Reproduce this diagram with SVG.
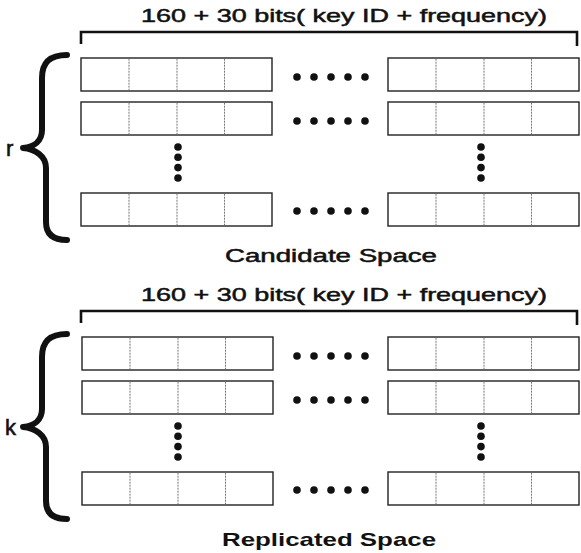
<svg xmlns="http://www.w3.org/2000/svg" xmlns:xlink="http://www.w3.org/1999/xlink" width="581" height="553" viewBox="0 0 581 553">
  <style>
    .title { font-family: "Liberation Sans", "DejaVu Sans", sans-serif; font-size: 18.5px; fill: #111; stroke: #111; stroke-width: 0.5; }
    .caption { font-family: "Liberation Sans", "DejaVu Sans", sans-serif; font-size: 18px; fill: #111; stroke: #111; stroke-width: 0.5; }
    .caption-bold { font-family: "Liberation Sans", "DejaVu Sans", sans-serif; font-size: 19px; font-weight: bold; fill: #111; }
    .letter { font-family: "Liberation Sans", "DejaVu Sans", sans-serif; font-size: 22px; fill: #111; stroke: #111; stroke-width: 0.6; }
    .bracket { fill: none; stroke: #111; stroke-width: 2.6; stroke-linejoin: miter; }
    .brace { fill: none; stroke: #111; stroke-width: 6; stroke-linecap: round; stroke-linejoin: round; }
    .frame { fill: #fff; stroke: #222; stroke-width: 1.4; }
    .divider { stroke: #777; stroke-width: 1; stroke-dasharray: 2 1; }
    .dot { fill: #111; }
  </style>
  <defs>
    <!-- one 4-field row of the table -->
    <g id="row">
      <rect class="frame" x="0" y="0" width="191" height="33"/>
      <line class="divider" x1="48" y1="0.7" x2="48" y2="32.3"/>
      <line class="divider" x1="96" y1="0.7" x2="96" y2="32.3"/>
      <line class="divider" x1="143.5" y1="0.7" x2="143.5" y2="32.3"/>
    </g>
    <!-- horizontal ellipsis between the two columns -->
    <g id="hdots">
      <circle class="dot" cx="0" cy="0" r="3.8"/>
      <circle class="dot" cx="17" cy="0" r="3.8"/>
      <circle class="dot" cx="34" cy="0" r="3.8"/>
      <circle class="dot" cx="51" cy="0" r="3.8"/>
      <circle class="dot" cx="68" cy="0" r="3.8"/>
    </g>
    <!-- vertical ellipsis between rows -->
    <g id="vdots">
      <circle class="dot" cx="0" cy="0" r="3.8"/>
      <circle class="dot" cx="0" cy="10.3" r="3.8"/>
      <circle class="dot" cx="0" cy="20.6" r="3.8"/>
      <circle class="dot" cx="0" cy="31" r="3.8"/>
    </g>
    <!-- width bracket above the table -->
    <path id="widthBracket" class="bracket" d="M 81 44 L 81 32 L 577 32 L 577 46"/>
    <!-- curly brace on the left -->
    <path id="brace" class="brace" d="M 67 55 C 50 55 42 62 42 78 L 42 130 C 42 141 34 147 23 148 C 35 149 46 156 46 168 L 46 222 C 46 234 53 240 67 240"/>
  </defs>

  <!-- Candidate space -->
  <g id="candidate-space">
    <text class="title" x="344" y="22" text-anchor="middle" textLength="406" lengthAdjust="spacingAndGlyphs">160 + 30 bits( key ID + frequency)</text>
    <use xlink:href="#widthBracket"/>
    <use xlink:href="#brace"/>
    <text class="letter" x="6" y="156">r</text>
    <g id="candidate-rows">
      <use xlink:href="#row" x="81" y="58"/>
      <use xlink:href="#row" x="388" y="58"/>
      <use xlink:href="#row" x="81" y="102"/>
      <use xlink:href="#row" x="388" y="102"/>
      <use xlink:href="#row" x="81" y="193"/>
      <use xlink:href="#row" x="388" y="193"/>
    </g>
    <g id="candidate-ellipses">
      <use xlink:href="#hdots" x="297" y="77"/>
      <use xlink:href="#hdots" x="297" y="121"/>
      <use xlink:href="#hdots" x="297" y="211"/>
      <use xlink:href="#vdots" x="178" y="147"/>
      <use xlink:href="#vdots" x="481" y="147"/>
    </g>
    <text class="caption" x="331" y="262" text-anchor="middle" textLength="212" lengthAdjust="spacingAndGlyphs">Candidate Space</text>
  </g>

  <!-- Replicated space -->
  <g id="replicated-space" transform="translate(0 279)">
    <text class="title" x="344" y="22" text-anchor="middle" textLength="406" lengthAdjust="spacingAndGlyphs">160 + 30 bits( key ID + frequency)</text>
    <use xlink:href="#widthBracket"/>
    <use xlink:href="#brace"/>
    <text class="letter" x="5" y="156">k</text>
    <g id="replicated-rows">
      <use xlink:href="#row" x="82" y="58"/>
      <use xlink:href="#row" x="388" y="58"/>
      <use xlink:href="#row" x="82" y="102"/>
      <use xlink:href="#row" x="388" y="102"/>
      <use xlink:href="#row" x="82" y="193"/>
      <use xlink:href="#row" x="388" y="193"/>
    </g>
    <g id="replicated-ellipses">
      <use xlink:href="#hdots" x="297" y="77"/>
      <use xlink:href="#hdots" x="297" y="121"/>
      <use xlink:href="#hdots" x="297" y="211"/>
      <use xlink:href="#vdots" x="178" y="147"/>
      <use xlink:href="#vdots" x="481" y="147"/>
    </g>
    <text class="caption-bold" x="329" y="267" text-anchor="middle" textLength="214" lengthAdjust="spacingAndGlyphs">Replicated Space</text>
  </g>
</svg>
